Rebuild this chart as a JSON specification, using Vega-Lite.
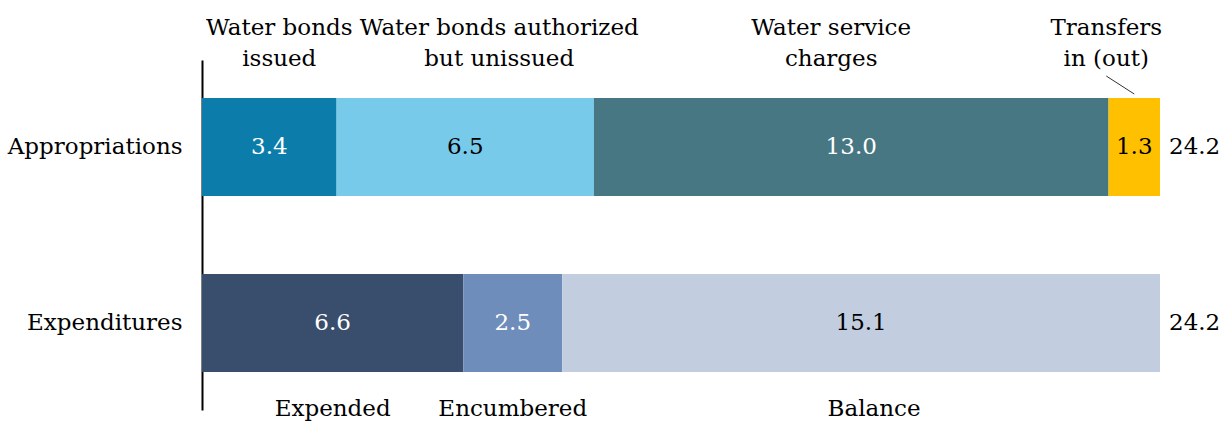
{
  "$schema": "https://vega.github.io/schema/vega-lite/v6.json",
  "width": 958,
  "height": 350,
  "autosize": "none",
  "padding": {"left": 202, "top": 60, "right": 60, "bottom": 13},
  "background": "white",
  "config": {"view": {"stroke": null}, "font": "DejaVu Serif", "text": {"font": "DejaVu Serif", "fontSize": 23}},
  "data": {"values": [
    {"group": "Appropriations", "category": "Water bonds issued", "label": "Water bonds\nissued", "value": 3.4, "order": 1},
    {"group": "Appropriations", "category": "Water bonds authorized but unissued", "label": "Water bonds authorized\nbut unissued", "value": 6.5, "order": 2},
    {"group": "Appropriations", "category": "Water service charges", "label": "Water service\ncharges", "value": 13.0, "order": 3},
    {"group": "Appropriations", "category": "Transfers in (out)", "label": "Transfers\nin (out)", "value": 1.3, "order": 4},
    {"group": "Expenditures", "category": "Expended", "label": "Expended", "value": 6.6, "order": 1},
    {"group": "Expenditures", "category": "Encumbered", "label": "Encumbered", "value": 2.5, "order": 2},
    {"group": "Expenditures", "category": "Balance", "label": "Balance", "value": 15.1, "order": 3}
  ]},
  "transform": [
    {"stack": "value", "groupby": ["group"], "sort": [{"field": "order"}], "as": ["x0", "x1"]},
    {"calculate": "(datum.x0 + datum.x1) / 2", "as": "mid"}
  ],
  "encoding": {
    "y": {
      "field": "group", "type": "nominal", "sort": ["Appropriations", "Expenditures"],
      "scale": {"paddingInner": 0.443, "paddingOuter": 0.216},
      "axis": {"title": null, "ticks": false, "domainColor": "black", "domainWidth": 2, "labelFont": "DejaVu Serif", "labelFontSize": 23, "labelColor": "black", "labelPadding": 20, "labelLimit": 300}
    }
  },
  "layer": [
    {
      "mark": {"type": "bar"},
      "encoding": {
        "x": {"field": "x0", "type": "quantitative", "scale": {"domain": [0, 24.2], "nice": false}, "axis": null},
        "x2": {"field": "x1"},
        "color": {
          "field": "category", "type": "nominal", "legend": null,
          "scale": {
            "domain": ["Water bonds issued", "Water bonds authorized but unissued", "Water service charges", "Transfers in (out)", "Expended", "Encumbered", "Balance"],
            "range": ["#0C7DAA", "#78CAEB", "#477783", "#FFC000", "#394D6D", "#6E8DBA", "#C2CDE0"]
          }
        }
      }
    },
    {
      "mark": {"type": "text", "baseline": "middle", "align": "center"},
      "encoding": {
        "x": {"field": "mid", "type": "quantitative"},
        "text": {"field": "value", "type": "quantitative", "format": ".1f"},
        "color": {
          "condition": {"test": "indexof(['Water bonds issued', 'Water service charges', 'Expended', 'Encumbered'], datum.category) >= 0", "value": "white"},
          "value": "black"
        }
      }
    },
    {
      "transform": [{"aggregate": [{"op": "sum", "field": "value", "as": "total"}], "groupby": ["group"]}],
      "mark": {"type": "text", "baseline": "middle", "align": "left", "dx": 9, "color": "black"},
      "encoding": {
        "x": {"field": "total", "type": "quantitative"},
        "text": {"field": "total", "type": "quantitative", "format": ".1f"}
      }
    },
    {
      "transform": [{"filter": "datum.category === 'Water bonds issued'"}],
      "mark": {"type": "text", "baseline": "middle", "align": "center", "lineBreak": "\n", "lineHeight": 31, "dx": 10, "dy": -119, "color": "black"},
      "encoding": {"x": {"field": "mid", "type": "quantitative"}, "text": {"field": "label"}}
    },
    {
      "transform": [{"filter": "datum.category === 'Water bonds authorized but unissued'"}],
      "mark": {"type": "text", "baseline": "middle", "align": "center", "lineBreak": "\n", "lineHeight": 31, "dx": 34, "dy": -119, "color": "black"},
      "encoding": {"x": {"field": "mid", "type": "quantitative"}, "text": {"field": "label"}}
    },
    {
      "transform": [{"filter": "datum.category === 'Water service charges'"}],
      "mark": {"type": "text", "baseline": "middle", "align": "center", "lineBreak": "\n", "lineHeight": 31, "dx": -20, "dy": -119, "color": "black"},
      "encoding": {"x": {"field": "mid", "type": "quantitative"}, "text": {"field": "label"}}
    },
    {
      "transform": [{"filter": "datum.category === 'Transfers in (out)'"}],
      "mark": {"type": "text", "baseline": "middle", "align": "center", "lineBreak": "\n", "lineHeight": 31, "dx": -28, "dy": -119, "color": "black"},
      "encoding": {"x": {"field": "mid", "type": "quantitative"}, "text": {"field": "label"}}
    },
    {
      "transform": [{"filter": "datum.group === 'Expenditures' && datum.category !== 'Balance'"}],
      "mark": {"type": "text", "baseline": "middle", "align": "center", "dy": 86, "color": "black"},
      "encoding": {"x": {"field": "mid", "type": "quantitative"}, "text": {"field": "label"}}
    },
    {
      "transform": [{"filter": "datum.category === 'Balance'"}],
      "mark": {"type": "text", "baseline": "middle", "align": "center", "dx": 13, "dy": 86, "color": "black"},
      "encoding": {"x": {"field": "mid", "type": "quantitative"}, "text": {"field": "label"}}
    },
    {
      "transform": [{"filter": "datum.category === 'Transfers in (out)'"}],
      "mark": {"type": "rule", "color": "#333333", "strokeWidth": 1, "xOffset": -28, "yOffset": -71, "y2Offset": -53},
      "encoding": {
        "x": {"field": "mid", "type": "quantitative"},
        "x2": {"field": "mid"},
        "y2": {"field": "group"}
      }
    }
  ]
}
